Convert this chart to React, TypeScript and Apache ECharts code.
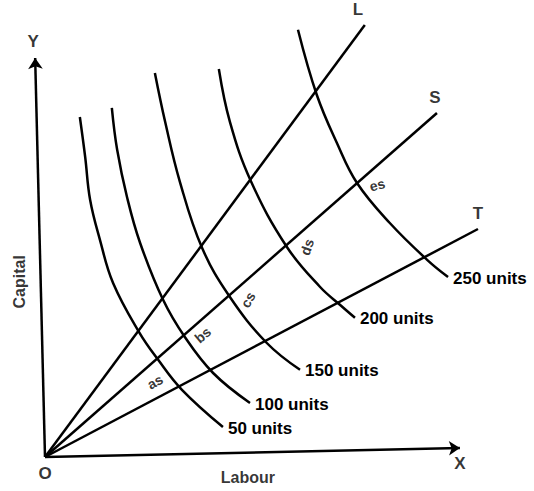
import React, { useEffect, useRef } from "react";
import * as echarts from "echarts";

// Axis end points (Labour, Capital) — the printed axes are slightly skewed
const xAxisEnd = [101.2, 2.25];
const yAxisEnd = [-2.4, 99.75];

// Rays from the origin
const rayNames = ["L", "S", "T"];
const rayEnds: number[][] = [
  [78.0, 108.0],
  [95.6, 86.0],
  [105.6, 57.0],
];
const rayLabelPos: number[][] = [
  [76.3, 111.8],
  [95.1, 90.0],
  [105.6, 61.0],
];

// Isoquants
const isoNames = ["50 units", "100 units", "150 units", "200 units", "250 units"];
const iso50: number[][] = [
  [8.5, 85.0], [9.8, 75.0], [11.0, 64.3], [13.4, 54.3], [16.6, 43.5], [22.9, 31.3], [27.6, 24.3], [33.4, 16.8], [43.4, 7.5],
];
const iso100: number[][] = [
  [16.3, 87.3], [17.6, 76.8], [20.0, 65.0], [23.2, 53.5], [28.8, 39.3], [34.1, 30.0], [41.0, 21.0], [50.0, 13.5],
];
const iso150: number[][] = [
  [26.8, 96.0], [29.3, 83.8], [32.9, 68.8], [38.3, 52.3], [45.1, 40.0], [54.1, 28.5], [62.2, 21.8],
];
const iso200: number[][] = [
  [42.4, 97.0], [45.1, 83.8], [50.2, 69.0], [59.0, 52.5], [67.1, 42.5], [72.0, 38.0], [75.6, 34.8],
];
const iso250: number[][] = [
  [61.7, 106.8], [66.3, 90.5], [71.2, 78.5], [76.1, 68.5], [84.1, 58.5], [93.2, 49.3], [98.3, 45.0],
];
const isoData = [iso50, iso100, iso150, iso200, iso250];

// Point labels along ray S
const pointNames = ["as", "bs", "cs", "ds", "es"];
const pointPos: number[][] = [
  [26.8, 18.8], [38.5, 30.5], [49.5, 39.3], [63.9, 52.5], [81.0, 68.0],
];
const pointRot = [30, 40, 60, 70, 15];

// Axis letters and titles
const axisTexts = ["X", "Y", "O", "Labour", "Capital"];
const axisTextPos: number[][] = [
  [101.2, -1.5], [-2.9, 104.0], [0, -4.0], [49.5, -5.0], [-6.1, 43.8],
];
const axisTextSize = [17, 17, 17, 16, 16];
const axisTextRot = [0, 0, 0, 0, 90];

const FONT = "Liberation Sans, Arial, sans-serif";

export default function App() {
  const ref = useRef<HTMLDivElement>(null);
  useEffect(() => {
    if (!ref.current) return;
    const chart = echarts.init(ref.current, null, { renderer: "svg" });
    const series: any[] = [];
    series.push({
      type: "line",
      name: "axes",
      data: [],
      symbol: "none",
      clip: false,
      silent: true,
      markLine: {
        silent: true,
        animation: false,
        symbol: ["none", "arrow"],
        symbolSize: [11, 11],
        label: { show: false },
        lineStyle: { color: "#000", width: 2.5, type: "solid" },
        data: [
          [{ coord: [0, 0] }, { coord: xAxisEnd }],
          [{ coord: [0, 0] }, { coord: yAxisEnd }],
        ],
      },
    });
    rayNames.forEach((n, i) => {
      series.push({
        type: "line",
        name: n,
        data: [[0, 0], rayEnds[i]],
        symbol: "none",
        clip: false,
        lineStyle: { color: "#000", width: 2.5 },
      });
    });
    isoNames.forEach((n, i) => {
      series.push({
        type: "line",
        name: n,
        data: isoData[i],
        symbol: "none",
        smooth: 0.4,
        clip: false,
        lineStyle: { color: "#000", width: 2.5 },
        endLabel: {
          show: true,
          formatter: n,
          color: "#000",
          fontSize: 17,
          fontWeight: "bold",
          fontFamily: FONT,
          distance: 5,
          offset: [0, 1],
        },
      });
    });
    const textItems: any[] = [];
    rayNames.forEach((n, i) => textItems.push({ name: n, value: rayLabelPos[i], label: { fontSize: 17 } }));
    axisTexts.forEach((n, i) =>
      textItems.push({ name: n, value: axisTextPos[i], label: { fontSize: axisTextSize[i], rotate: axisTextRot[i] } })
    );
    pointNames.forEach((n, i) =>
      textItems.push({ name: n, value: pointPos[i], label: { fontSize: 14, rotate: pointRot[i] } })
    );
    series.push({
      type: "scatter",
      data: textItems,
      symbolSize: 0,
      clip: false,
      silent: true,
      label: {
        show: true,
        position: "inside",
        formatter: "{b}",
        color: "#000",
        fontWeight: "bold",
        fontFamily: FONT,
      },
    });
    chart.setOption({
      animation: false,
      backgroundColor: "#fff",
      grid: { left: 4, right: 38, top: 5, bottom: 2 },
      xAxis: { type: "value", min: -10, max: 110, show: false },
      yAxis: { type: "value", min: -8, max: 113, show: false },
      series,
    });
    return () => chart.dispose();
  }, []);
  return (
    <div
      ref={ref}
      style={{ position: "fixed", left: 0, top: 0, width: 534, height: 491, background: "#fff" }}
    />
  );
}
